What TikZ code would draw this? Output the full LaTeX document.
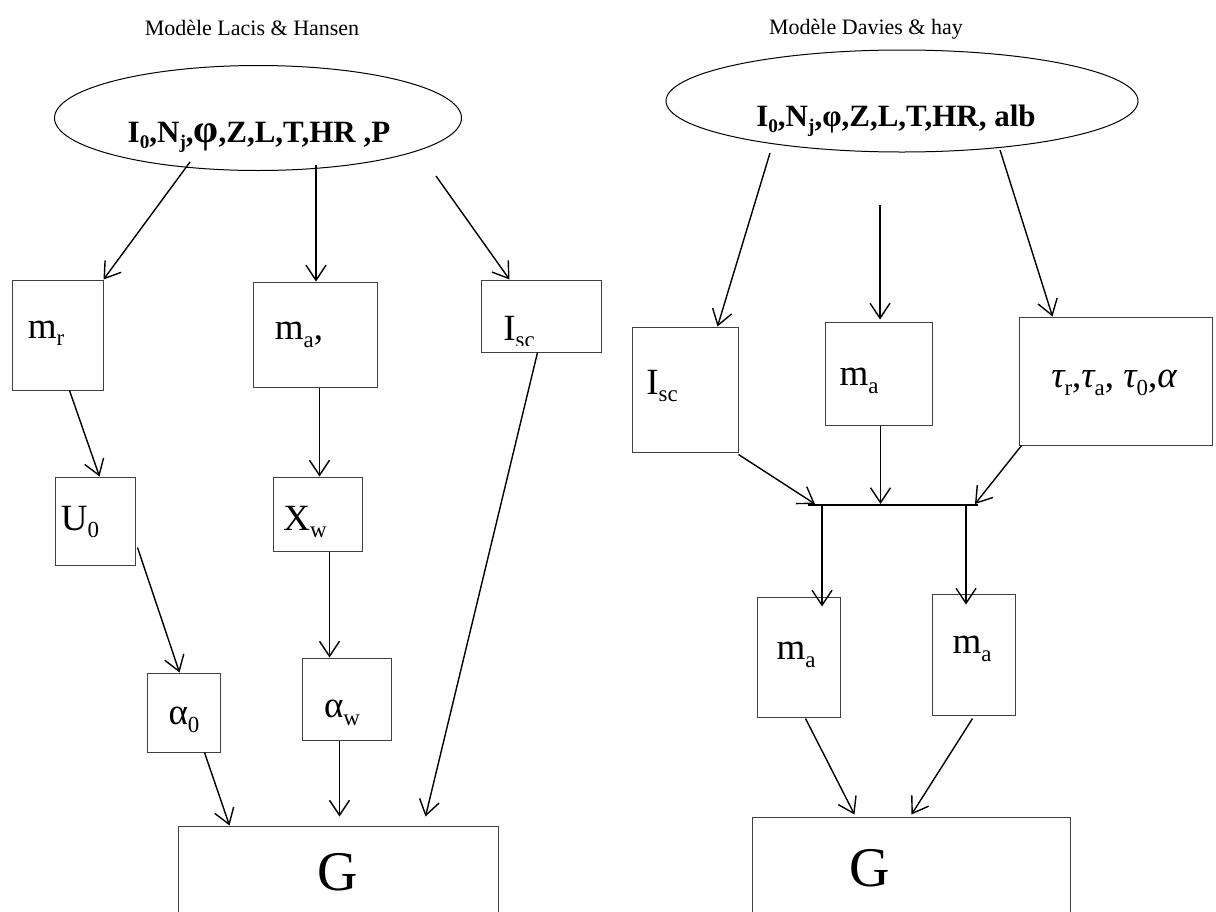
\documentclass[tikz,border=0pt]{standalone}
\usepackage{fontspec}
\setmainfont{Liberation Serif}
\usepackage{graphicx}
\usetikzlibrary{arrows.meta,calc,shapes.geometric}
\newcommand\mysub[1]{\raisebox{-0.2em}{\scalebox{0.62}{#1}}}
\tikzset{
 bx/.style={draw=black!75, line width=1pt, rectangle, inner sep=0pt},
 lbl/.style={inner sep=0pt, font=\fontsize{37}{40}\selectfont},
 arr/.style={line width=1.4pt, -{Straight Barb[length=15pt,width=20pt,line width=1.4pt]}},
 elp/.style={draw, ellipse, line width=1pt, inner sep=0pt},
 ttl/.style={inner sep=0pt, font=\fontsize{22}{26}\selectfont},
 etx/.style={inner sep=0pt, font=\fontsize{31}{34}\selectfont\bfseries},
 gtx/.style={inner sep=0pt, font=\fontsize{56}{60}\selectfont},
}
\begin{document}
\begin{tikzpicture}[x=1pt,y=-1pt]
\useasboundingbox (0,0) rectangle (1216,911);
% titles
\node[ttl] (titleL) at (252,28) {Modèle Lacis \& Hansen};
\node[ttl] (titleR) at (866,29) {Modèle Davies \& hay};
% ellipses
\node[elp, minimum width=407pt, minimum height=105pt] (elL) at (258,118) {};
\node[etx] (elLT) at (259,137) {I\mysub{0},N\mysub{j},{\fontsize{40}{40}\selectfont φ},Z,L,T,HR ,P};
\node[elp, minimum width=472pt, minimum height=102pt] (elR) at (902,101) {};
\node[etx] (elRT) at (896,121) {I\mysub{0},N\mysub{j},φ,Z,L,T,HR, alb};
% left boxes
\node[bx, minimum width=91pt, minimum height=110pt] (mr) at (57.5,335) {};
\node[bx, minimum width=124pt, minimum height=105pt] (maL) at (315,334.5) {};
\node[bx, minimum width=120pt, minimum height=72pt] (iscL) at (541,316) {};
\node[bx, minimum width=80pt, minimum height=88pt] (u0) at (95,521) {};
\node[bx, minimum width=89pt, minimum height=74pt] (xw) at (317.5,514) {};
\node[bx, minimum width=73pt, minimum height=79pt] (a0) at (183.5,712.5) {};
\node[bx, minimum width=89pt, minimum height=82pt] (aw) at (346.5,699) {};
\node[bx, minimum width=320pt, minimum height=134pt] (gL) at (338,893) {};
% right boxes
\node[bx, minimum width=106pt, minimum height=125pt] (iscR) at (685,389.5) {};
\node[bx, minimum width=107pt, minimum height=103pt] (maR) at (878.5,373.5) {};
\node[bx, minimum width=193pt, minimum height=128pt] (tau) at (1115.5,381) {};
\node[bx, minimum width=83pt, minimum height=120pt] (ma1) at (798.5,657) {};
\node[bx, minimum width=83pt, minimum height=121pt] (ma2) at (973.5,654.5) {};
\node[bx, minimum width=318pt, minimum height=143pt] (gR) at (911,888.5) {};
% texts in boxes
\node[lbl] (mrT) at (46,333) {m\mysub{r}};
\node[lbl] (maLT) at (299,335) {m\mysub{a},};
\begin{scope}
\clip (iscL.north west) rectangle ($(iscL.south east)+(0,-7)$);
\node[lbl] (iscLT) at (519,332) {I\mysub{sc}};
\end{scope}
\node[lbl] (u0T) at (80,522) {U\mysub{0}};
\node[lbl] (xwT) at (305,522) {X\mysub{w}};
\node[lbl] (a0T) at (184,720) {α\mysub{0}};
\node[lbl] (awT) at (342,713) {α\mysub{w}};
\node[gtx] (gLT) at (338,872) {G};
\node[lbl] (iscRT) at (662,386) {I\mysub{sc}};
\node[lbl] (maRT) at (859,381) {m\mysub{a}};
\node[lbl] (tauT) at (1114,383) {{\itshape τ}\mysub{r},{\itshape τ}\mysub{a}, {\itshape τ}\mysub{0},{\itshape α}};
\node[lbl] (ma1T) at (796,655) {m\mysub{a}};
\node[lbl] (ma2T) at (972,649) {m\mysub{a}};
\node[gtx] (gRT) at (870,868) {G};
% left connectors
\draw[arr] ($(elL.center)+(-68,44)$) -- (mr.north east);
\coordinate (a2s) at ($(elL.center)+(58,47)$);
\draw[arr] (a2s) -- (a2s |- maL.north);
\draw[arr] ($(elL.center)+(178,58)$) -- ($(iscL.north west)+(29,0)$);
\draw[arr] ($(mr.south west)+(58,0)$) -- ($(u0.north west)+(45,0)$);
\draw[arr] ($(u0.north east)+(2,71)$) -- ($(a0.north west)+(33,0)$);
\coordinate (b1) at ($(maL.south west)+(67,0)$);
\draw[arr] (b1) -- (b1 |- xw.north);
\coordinate (b2) at ($(xw.south west)+(57,0)$);
\draw[arr] (b2) -- (b2 |- aw.north);
\draw[arr] ($(a0.south west)+(58,0)$) -- ($(gL.north west)+(52,0)$);
\coordinate (b3) at ($(aw.south west)+(38,0)$);
\draw[arr] (b3) -- ($(b3 |- gL.north)+(0,-9)$);
\draw[arr] ($(iscL.south west)+(57,0)$) -- ($(gL.north west)+(248,-9)$);
% right connectors
\draw[arr] ($(elR.center)+(-132,52)$) -- ($(iscR.north west)+(86,0)$);
\coordinate (r2) at ($(elR.center)+(-22,104)$);
\draw[arr] (r2) -- ($(r2 |- maR.north)+(0,-2)$);
\draw[arr] ($(elR.center)+(98,49)$) -- ($(tau.north west)+(34,0)$);
\coordinate (barL) at (808,505);
\coordinate (barR) at (978,505);
\draw[line width=2.4pt] (barL) -- (barR);
\draw[arr] ($(iscR.south east)+(0,2)$) -- ($(barL)+(7,-1)$);
\coordinate (r5) at ($(maR.south west)+(56,0)$);
\draw[arr] (r5) -- ($(r5 |- barL)+(0,-1)$);
\draw[arr] ($(tau.south west)+(3,0)$) -- ($(barR)+(-3,-1)$);
\coordinate (r7) at ($(barL)+(14,0)$);
\draw[arr] (r7) -- ($(r7 |- ma1.north)+(0,10)$);
\coordinate (r8) at ($(barR)+(-12,0)$);
\draw[arr] (r8) -- ($(r8 |- ma2.north)+(0,11)$);
\draw[arr] ($(ma1.south west)+(49,1)$) -- ($(gR.north west)+(103,-2)$);
\draw[arr] ($(ma2.south west)+(41,3)$) -- ($(gR.north west)+(160,-2)$);
\end{tikzpicture}
\end{document}
